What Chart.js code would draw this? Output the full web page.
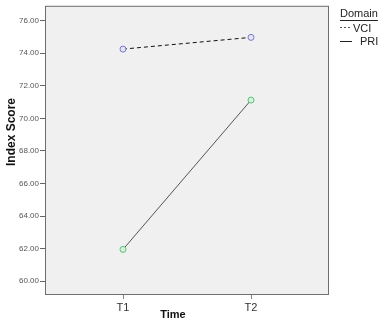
<!DOCTYPE html>
<html><head><meta charset="utf-8">
<script src="https://cdn.jsdelivr.net/npm/chart.js@4"></script>
<style>html,body{margin:0;padding:0;background:#fff}#wrap{width:379px;height:323px;position:relative}</style>
</head><body><div id="wrap"><canvas id="c" width="379" height="323"></canvas></div>
<script>
const categories = ["T1", "T2"];
const seriesNames = ["VCI", "PRI"];
const vciValues = [74.25, 74.97];
const priValues = [61.95, 71.12];
const yTicks = [60, 62, 64, 66, 68, 70, 72, 74, 76];
const legendTitle = "Domain";
const xTitle = "Time";
const yTitle = "Index Score";

const FONT = '"Liberation Sans", Arial, sans-serif';

const bgPlugin = {
  id: 'bg',
  beforeDraw(chart) {
    const {ctx, chartArea: a} = chart;
    ctx.save();
    ctx.fillStyle = '#f0f0f0';
    ctx.fillRect(a.left, a.top, a.right - a.left, a.bottom - a.top);
    ctx.restore();
  },
  afterDraw(chart) {
    const {ctx, chartArea: a} = chart;
    ctx.save();
    ctx.strokeStyle = '#6e6e6e';
    ctx.lineWidth = 1;
    ctx.strokeRect(a.left + 0.5, a.top + 0.5, a.right - a.left - 1, a.bottom - a.top - 1);
    // axis titles
    ctx.fillStyle = '#111';
    ctx.font = 'bold 11px ' + FONT;
    ctx.textAlign = 'center';
    ctx.textBaseline = 'middle';
    ctx.fillText(xTitle, 173, 315);
    ctx.save();
    ctx.font = 'bold 12px ' + FONT;
    ctx.translate(12, 132);
    ctx.rotate(-Math.PI / 2);
    ctx.fillText(yTitle, 0, 0);
    ctx.restore();
    // legend
    ctx.fillStyle = '#222';
    ctx.font = '11px ' + FONT;
    ctx.textBaseline = 'middle';
    ctx.textAlign = 'left';
    const lx = 340;
    ctx.fillText(legendTitle, lx, 14);
    const w = ctx.measureText(legendTitle).width;
    ctx.strokeStyle = '#222';
    ctx.beginPath(); ctx.moveTo(lx, 20.5); ctx.lineTo(lx + w, 20.5); ctx.stroke();
    ctx.strokeStyle = '#555';
    ctx.setLineDash([2, 2]);
    ctx.beginPath(); ctx.moveTo(340, 27.5); ctx.lineTo(351, 27.5); ctx.stroke();
    ctx.setLineDash([]);
    ctx.strokeStyle = '#222';
    ctx.fillText(seriesNames[0], 353, 29);
    ctx.beginPath(); ctx.moveTo(340, 41.5); ctx.lineTo(352, 41.5); ctx.stroke();
    ctx.fillText(seriesNames[1], 360, 42);
    ctx.restore();
  }
};

new Chart(document.getElementById('c'), {
  type: 'line',
  data: {
    datasets: [
      {
        label: seriesNames[0],
        data: categories.map((c, i) => ({x: i + 1, y: vciValues[i]})),
        borderColor: '#111',
        borderWidth: 1,
        borderDash: [4, 3],
        pointRadius: 3,
        pointBorderColor: '#7a7ac8',
        pointBackgroundColor: '#e4e4f4',
        pointBorderWidth: 1,
        tension: 0
      },
      {
        label: seriesNames[1],
        data: categories.map((c, i) => ({x: i + 1, y: priValues[i]})),
        borderColor: '#555',
        borderWidth: 1,
        pointRadius: 3,
        pointBorderColor: '#5cc27a',
        pointBackgroundColor: '#d8f0de',
        pointBorderWidth: 1,
        tension: 0
      }
    ]
  },
  options: {
    responsive: false,
    animation: false,
    layout: {padding: {top: 2, right: 50, left: 0, bottom: 0}},
    plugins: {legend: {display: false}, tooltip: {enabled: false}},
    scales: {
      x: {
        type: 'linear',
        min: 1 - 78 / 128,
        max: 2 + 78 / 128,
        afterFit(s) { s.height = 28; },
        afterBuildTicks(s) { s.ticks = categories.map((c, i) => ({value: i + 1})); },
        ticks: {
          autoSkip: false,
          maxRotation: 0,
          padding: 2,
          color: '#333',
          font: {family: FONT, size: 11},
          callback: (v) => categories[v - 1] || ''
        },
        grid: {display: true, drawOnChartArea: false, drawTicks: true, tickLength: 4, color: '#888'},
        border: {display: false},
        title: {display: false}
      },
      y: {
        min: 60 - 14 / 16.5,
        max: 76 + 15 / 16.5,
        afterFit(s) { s.width = 45; },
        afterBuildTicks(s) { s.ticks = yTicks.map(v => ({value: v})); },
        ticks: {
          padding: 1,
          color: '#555',
          font: {family: FONT, size: 8},
          callback: (v) => v.toFixed(2)
        },
        grid: {drawOnChartArea: false, drawTicks: true, tickLength: 5, color: '#666'},
        border: {display: false},
        title: {display: false}
      }
    }
  },
  plugins: [bgPlugin]
});
</script></body></html>
